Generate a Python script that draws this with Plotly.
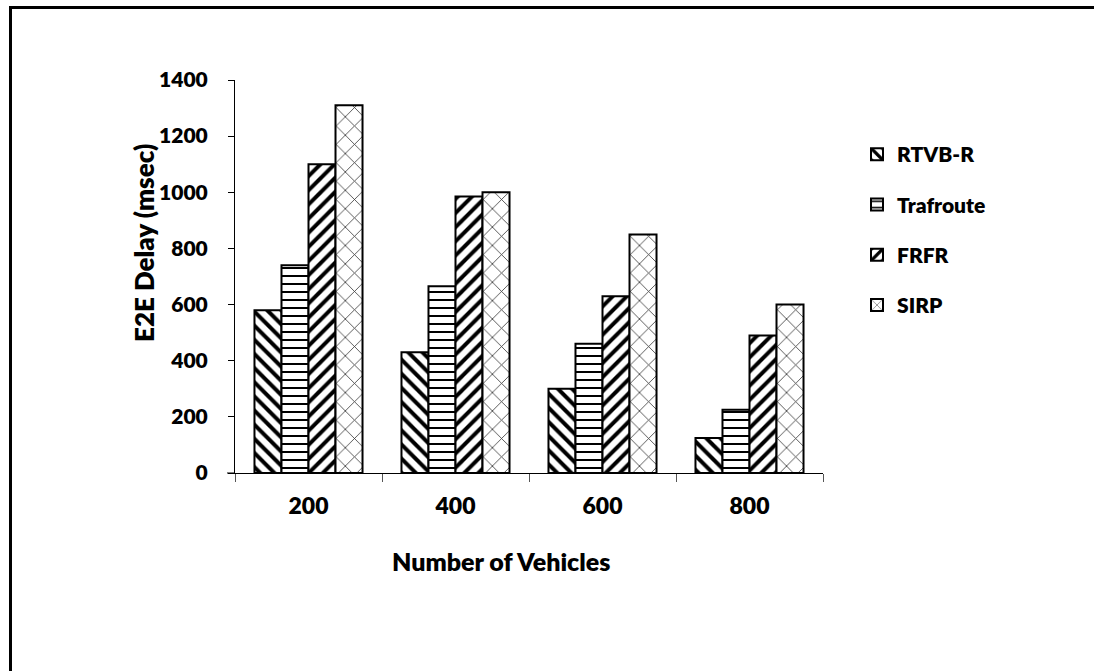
import plotly.graph_objects as go

# Number of vehicles (x categories)
vehicles = ["200", "400", "600", "800"]

# End-to-end delay in msec for each routing protocol
rtvb_r = [580, 430, 300, 125]
trafroute = [740, 665, 460, 225]
frfr = [1100, 985, 630, 490]
sirp = [1310, 1000, 850, 600]

y_ticks = [0, 200, 400, 600, 800, 1000, 1200, 1400]

FONT = "Lato"
WEIGHT = 800

series = [
    ("RTVB-R", rtvb_r, dict(shape="\\", size=10, solidity=0.4, fgcolor="black")),
    ("Trafroute", trafroute, dict(shape="-", size=8, solidity=0.25, fgcolor="black")),
    ("FRFR", frfr, dict(shape="/", size=10, solidity=0.4, fgcolor="black")),
    ("SIRP", sirp, dict(shape="x", size=13, solidity=0.12, fgcolor="#333333")),
]

fig = go.Figure()
for i, (name, vals, pat) in enumerate(series):
    fig.add_trace(go.Bar(
        name=name,
        x=vehicles,
        y=vals,
        legendgroup=f"g{i}",
        marker=dict(
            color="white",
            line=dict(color="black", width=2),
            pattern=dict(bgcolor="white", fgopacity=1, fillmode="replace", **pat),
        ),
    ))

# plot area in pixels: x 235..823, y 80..473
L, R, T, B = 235, 1094 - 823, 80, 671 - 473
W, H = 1094, 671
pw, ph = W - L - R, H - T - B


def px_x(p):
    return (p - L) / pw


def px_y(p):
    return (H - B - p) / ph


fig.update_layout(
    width=W,
    height=H,
    margin=dict(l=L, r=R, t=T, b=B, pad=0),
    paper_bgcolor="white",
    plot_bgcolor="white",
    barmode="group",
    bargap=0.265,
    bargroupgap=0,
    font=dict(family=FONT, size=18, color="black", weight=WEIGHT),
    showlegend=True,
    legend=dict(
        x=px_x(857),
        y=px_y(134),
        xanchor="left",
        yanchor="top",
        tracegroupgap=20,
        font=dict(family=FONT, size=21, color="black", weight=WEIGHT),
        bgcolor="rgba(0,0,0,0)",
        itemwidth=30,
    ),
    xaxis=dict(
        type="category",
        showline=True,
        linecolor="black",
        linewidth=1,
        ticks="outside",
        tickson="boundaries",
        ticklen=8,
        tickcolor="#555555",
        tickwidth=1,
        ticklabelstandoff=12,
        showgrid=False,
        tickfont=dict(family=FONT, size=23, color="black", weight=WEIGHT),
    ),
    yaxis=dict(
        range=[0, 1400],
        tickvals=y_ticks,
        showline=True,
        linecolor="black",
        linewidth=1,
        ticks="outside",
        ticklen=6,
        tickcolor="black",
        ticklabelstandoff=16,
        showgrid=False,
        zeroline=False,
        tickfont=dict(family=FONT, size=21, color="black", weight=WEIGHT),
    ),
    annotations=[
        dict(text="Number of Vehicles", xref="paper", yref="paper",
             x=px_x(501), y=px_y(578), showarrow=False,
             font=dict(family=FONT, size=25, color="black", weight=WEIGHT)),
        dict(text="E2E Delay (msec)", xref="paper", yref="paper",
             x=px_x(126), y=px_y(243), showarrow=False, textangle=-90,
             font=dict(family=FONT, size=26, color="black", weight=WEIGHT)),
    ],
    shapes=[
        # outer frame: top and left edges
        dict(type="line", xref="paper", yref="paper",
             x0=px_x(10), x1=px_x(1094), y0=px_y(7.5), y1=px_y(7.5),
             line=dict(color="black", width=3)),
        dict(type="line", xref="paper", yref="paper",
             x0=px_x(10.5), x1=px_x(10.5), y0=px_y(6), y1=px_y(680),
             line=dict(color="black", width=3)),
        # short extension of the x axis line to the left of the y axis
        dict(type="line", xref="paper", yref="paper",
             x0=px_x(227), x1=px_x(235), y0=0, y1=0,
             line=dict(color="black", width=1)),
    ],
)

fig.write_html("out.html", config={"displayModeBar": False})
